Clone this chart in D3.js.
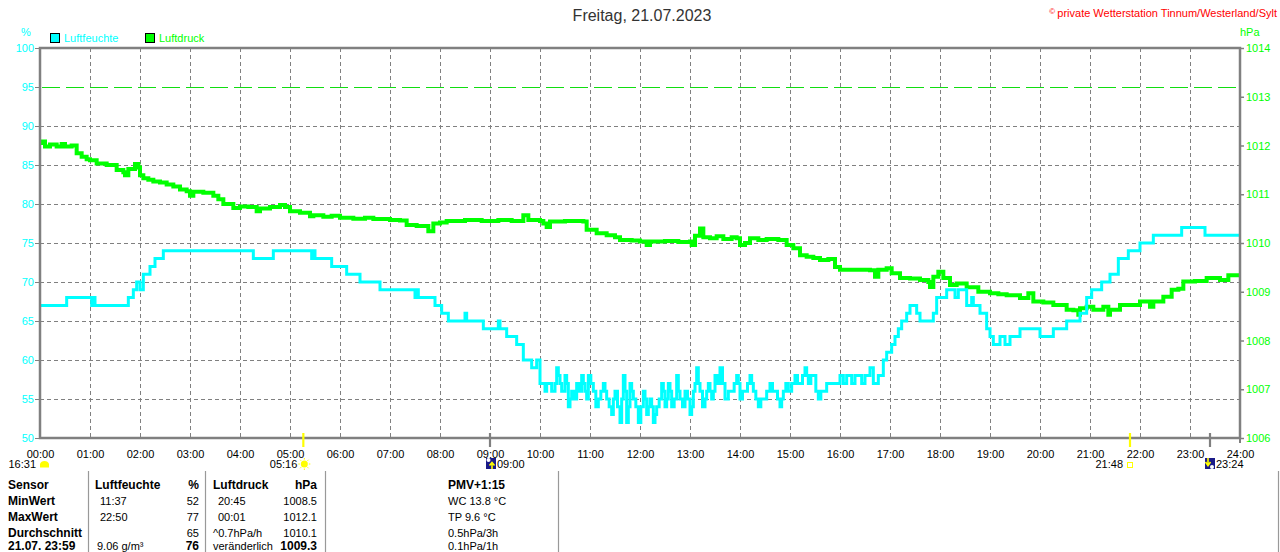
<!DOCTYPE html>
<html>
<head>
<meta charset="utf-8">
<script src="https://cdn.jsdelivr.net/npm/d3@7"></script>
<style>
  html, body { margin: 0; padding: 0; background: #fff; }
  svg { display: block; font-family: "Liberation Sans", Arial, sans-serif; }
</style>
</head>
<body>
<svg id="chart" width="1280" height="552"></svg>
<script>
// ---------- DATA ----------
const title = "Freitag, 21.07.2023";
const copyright = "private Wetterstation Tinnum/Westerland/Sylt";
const seriesNames = ["Luftfeuchte", "Luftdruck"];

// Humidity (%) — [minute of day, value], step-after
const humidity = [
  [0,67],[32,68],[62,67],[64,68],[66,67],[106,68],[112,69],[116,70],[120,69],[124,71],[128,71],[132,72],[138,73],[148,74],
  [256,73],[280,74],[326,73],[328,74],[330,73],[350,72],[368,71],[384,70],[408,69],[450,68],[452,69],[454,68],
  [474,67],[482,66],[490,65],[510,66],[512,65],[532,64],[550,65],[552,64],[560,63],[572,62],[580,60],[590,59],[596,60],
  [600,57],[606,56],[608,57],[614,56],[618,57],[620,59],[622,58],[624,57],[626,56],[630,58],[632,57],[634,54],[636,55],
  [638,56],[641,55],[644,57],[647,56],[650,58],[652,57],[654,56],[656,55],[658,58],[661,57],
  [664,56],[667,54],[670,55],[673,56],[676,57],[678,56],[680,55],[683,54],[686,53],[688,55],[690,56],[693,54],[696,52],
  [698,55],[700,58],[702,56],[704,52],[706,54],[708,57],[710,56],[712,55],[715,54],[718,52],[721,54],[724,56],[726,55],
  [728,53],[730,54],[732,55],[734,54],[736,52],[738,53],[740,54],[743,55],[746,57],[748,56],[750,54],[752,55],[754,57],
  [756,56],[758,54],[761,55],[764,58],[766,56],[768,55],[771,54],[774,56],[777,55],[780,53],[782,54],[784,56],[786,57],
  [788,59],[790,57],[792,56],[795,54],[798,55],[800,56],[802,57],[804,56],[806,55],[808,56],[810,58],[813,57],[816,59],
  [819,57],[822,55],[826,56],[830,56],[833,57],[836,58],[838,57],[840,55],[843,56],[846,56],[849,57],[852,58],
  [854,57],[856,56],[859,55],[862,54],[865,55],[868,55],[872,56],[876,57],[879,56],[882,56],[885,55],[888,54],[890,55],
  [892,56],[895,57],[898,56],[902,57],[906,58],[909,57],[912,57],[915,58],[918,59],[920,58],[922,57],[925,58],[928,58],
  [931,56],[934,55],[937,56],[940,56],[944,57],[948,57],[960,58],[964,57],[968,58],[974,57],[978,58],[986,57],[990,58],
  [996,59],[1000,57],[1006,58],
  [1012,60],[1016,61],[1022,62],[1026,63],[1030,64],[1034,65],[1040,66],[1044,67],[1052,66],[1056,65],[1072,66],[1076,68],
  [1088,69],[1098,68],[1102,69],[1112,67],[1118,68],[1120,67],[1128,66],[1136,64],[1140,63],[1144,62],[1152,63],[1158,62],
  [1164,63],[1176,64],[1200,63],[1216,64],[1232,65],[1248,66],[1256,68],[1262,69],[1274,70],[1284,71],[1294,73],[1306,74],
  [1320,75],[1336,76],[1370,77],[1398,76],[1440,76]
];

// Air pressure (hPa) — [minute of day, value]
const pressure = [
  [0,1012.05],[3,1012.08],[6,1011.98],[12,1012.02],[20,1011.98],[26,1012.03],[30,1011.98],[38,1012.0],[44,1011.84],
  [50,1011.77],[56,1011.72],[60,1011.70],[68,1011.63],[80,1011.6],[92,1011.50],[100,1011.45],[102,1011.39],[106,1011.52],
  [114,1011.62],[118,1011.55],[120,1011.39],[124,1011.33],[130,1011.3],[136,1011.26],[144,1011.24],[152,1011.2],[160,1011.16],
  [168,1011.1],[176,1011.06],[180,1010.97],[184,1011.05],[196,1011.03],[208,1010.97],[214,1010.9],[220,1010.8],[232,1010.72],
  [240,1010.75],[250,1010.74],[260,1010.65],[264,1010.71],[276,1010.74],[288,1010.78],[294,1010.74],[300,1010.65],
  [312,1010.62],[324,1010.55],[328,1010.57],[340,1010.54],[350,1010.56],[360,1010.52],[376,1010.5],[390,1010.52],[400,1010.49],
  [420,1010.47],[432,1010.46],[440,1010.37],[452,1010.35],[466,1010.24],[472,1010.4],[480,1010.42],[488,1010.45],
  [510,1010.47],[530,1010.45],[550,1010.47],[566,1010.45],[580,1010.57],[586,1010.47],[600,1010.45],[604,1010.4],[608,1010.33],
  [612,1010.44],[630,1010.45],[652,1010.44],[656,1010.27],[668,1010.2],[680,1010.16],[690,1010.12],[696,1010.06],[710,1010.05],
  [720,1010.03],[728,1009.96],[732,1010.03],[750,1010.04],[766,1010.02],[780,1010.03],[782,1009.96],[786,1010.15],[792,1010.3],
  [796,1010.12],[804,1010.1],[812,1010.14],[820,1010.08],[830,1010.12],[836,1010.1],[840,1009.96],[846,1010.0],[852,1010.1],
  [862,1010.06],[872,1010.08],[886,1010.06],[896,1009.96],[904,1009.89],[912,1009.75],[920,1009.72],[928,1009.69],[936,1009.65],
  [946,1009.67],[954,1009.51],[960,1009.45],[980,1009.45],[996,1009.44],[1002,1009.31],[1006,1009.45],[1016,1009.48],
  [1022,1009.38],[1032,1009.28],[1044,1009.27],[1056,1009.24],[1066,1009.2],[1068,1009.1],[1072,1009.31],[1078,1009.41],
  [1084,1009.28],[1092,1009.14],[1100,1009.17],[1112,1009.09],[1126,1009.0],[1140,1008.97],[1150,1008.95],[1160,1008.93],
  [1176,1008.87],[1186,1008.97],[1192,1008.8],[1204,1008.78],[1216,1008.73],[1232,1008.63],[1240,1008.62],[1246,1008.53],
  [1248,1008.66],[1256,1008.69],[1264,1008.63],[1276,1008.69],[1282,1008.53],[1284,1008.63],[1296,1008.73],[1308,1008.73],
  [1320,1008.8],[1332,1008.69],[1336,1008.8],[1348,1008.9],[1358,1009.04],[1366,1009.06],[1372,1009.21],[1386,1009.22],
  [1400,1009.28],[1416,1009.24],[1426,1009.34],[1440,1009.34]
];

const humTicks = [50,55,60,65,70,75,80,85,90,95,100];
const presTicks = [1006,1007,1008,1009,1010,1011,1012,1013,1014];
const hourTicks = d3.range(0, 25).map(h => h * 60);

// Astronomical markers: [label, minute of day, kind]
const astroEvents = [
  ["16:31", 0, "sunset"],
  ["05:16", 316, "sunrise"],
  ["09:00", 540, "moonrise"],
  ["21:48", 1308, "sundown"],
  ["23:24", 1404, "moonset"]
];

// Statistics table
const tableRows = [
  ["Sensor", "Luftfeuchte", "%", "Luftdruck", "hPa", "PMV+1:15"],
  ["MinWert", "11:37", "52", "20:45", "1008.5", "WC 13.8 °C"],
  ["MaxWert", "22:50", "77", "00:01", "1012.1", "TP 9.6 °C"],
  ["Durchschnitt", "", "65", "^0.7hPa/h", "1010.1", "0.5hPa/3h"],
  ["21.07. 23:59", "9.06 g/m³", "76", "veränderlich", "1009.3", "0.1hPa/1h"]
];

// ---------- LAYOUT ----------
const W = 1280, H = 552;
const L = 40, R = 1240, T = 48, B = 438;
const cHum = "#00ffff", cPres = "#00ff00", cGrid = "#808080";

const svg = d3.select("#chart");
const x = d3.scaleLinear().domain([0, 1440]).range([L, R]);
const yH = d3.scaleLinear().domain([50, 100]).range([B, T]);
const yP = d3.scaleLinear().domain([1006, 1014]).range([B, T]);

// Title / copyright
svg.append("text").attr("x", 642).attr("y", 21).attr("text-anchor", "middle")
  .attr("font-size", 16).attr("fill", "#333").text(title);
const cp = svg.append("text").attr("x", 1277).attr("y", 17).attr("text-anchor", "end")
  .attr("font-size", 11).attr("fill", "#ff0000");
cp.append("tspan").attr("font-size", 8).attr("dy", -3).text("© ");
cp.append("tspan").attr("dy", 3).text(copyright);

// Units
svg.append("text").attr("x", 26).attr("y", 36).attr("text-anchor", "middle")
  .attr("font-size", 11).attr("fill", cHum).text("%");
svg.append("text").attr("x", 1240).attr("y", 36)
  .attr("font-size", 11).attr("fill", cPres).text("hPa");

// Legend
const leg = [[50, 64, cHum], [145, 159, cPres]];
seriesNames.forEach((n, i) => {
  svg.append("rect").attr("x", leg[i][0] + 0.5).attr("y", 33.5).attr("width", 9).attr("height", 9)
    .attr("fill", leg[i][2]).attr("stroke", "#000").attr("stroke-width", 1);
  svg.append("text").attr("x", leg[i][1]).attr("y", 42).attr("font-size", 11)
    .attr("fill", leg[i][2]).text(n);
});

// Grid
const grid = svg.append("g");
grid.selectAll("line.h").data(humTicks.filter(v => v > 50 && v < 100 && v !== 95)).join("line")
  .attr("x1", L).attr("x2", R).attr("y1", d => Math.round(yH(d)) + 0.5).attr("y2", d => Math.round(yH(d)) + 0.5)
  .attr("stroke", cGrid).attr("stroke-width", 1).attr("stroke-dasharray", "4,3");
grid.selectAll("line.v").data(hourTicks.filter(v => v > 0 && v < 1440)).join("line")
  .attr("x1", d => x(d) + 0.5).attr("x2", d => x(d) + 0.5).attr("y1", T).attr("y2", B)
  .attr("stroke", cGrid).attr("stroke-width", 1).attr("stroke-dasharray", "4,3");
grid.append("line").attr("x1", L + 2).attr("x2", R).attr("y1", Math.round(yH(95)) + 0.5).attr("y2", Math.round(yH(95)) + 0.5)
  .attr("stroke", "#11dd11").attr("stroke-width", 1).attr("stroke-dasharray", "18,6").attr("shape-rendering", "crispEdges");

// Lines
svg.append("path").datum(pressure)
  .attr("d", d3.line().x(d => x(d[0])).y(d => yP(d[1])).curve(d3.curveStepAfter))
  .attr("fill", "none").attr("stroke", cPres).attr("stroke-width", 4).attr("stroke-linejoin", "miter");
svg.append("path").datum(humidity)
  .attr("d", d3.line().x(d => x(d[0])).y(d => yH(d[1])).curve(d3.curveStepAfter))
  .attr("fill", "none").attr("stroke", cHum).attr("stroke-width", 3);

// Axes
const axL = svg.append("g").attr("transform", `translate(${L},0)`)
  .call(d3.axisLeft(yH).tickValues(humTicks).tickSize(5).tickPadding(1).tickFormat(d3.format("d")));
axL.selectAll("text").attr("fill", cHum).attr("font-size", 11).attr("font-family", "Liberation Sans, Arial");
axL.selectAll("line").attr("stroke", cGrid);
axL.select(".domain").remove();

const axR = svg.append("g").attr("transform", `translate(${R},0)`)
  .call(d3.axisRight(yP).tickValues(presTicks).tickSize(4).tickPadding(2).tickFormat(d3.format("d")));
axR.selectAll("text").attr("fill", cPres).attr("font-size", 11).attr("font-family", "Liberation Sans, Arial");
axR.selectAll("line").attr("stroke", cGrid).attr("stroke-width", 1.5);
axR.select(".domain").remove();

const axB = svg.append("g").attr("transform", `translate(0,${B})`)
  .call(d3.axisBottom(x).tickValues(hourTicks).tickSize(0).tickPadding(12)
    .tickFormat(d => String(d / 60).padStart(2, "0") + ":00"));
axB.selectAll("text").attr("fill", "#000").attr("font-size", 11).attr("font-family", "Liberation Sans, Arial");
axB.select(".domain").remove();

// Frame
svg.append("rect").attr("x", L).attr("y", T).attr("width", R - L).attr("height", B - T)
  .attr("fill", "none").attr("stroke", cGrid).attr("stroke-width", 2.5);
svg.append("line").attr("x1", R).attr("x2", R).attr("y1", B).attr("y2", B + 5)
  .attr("stroke", cGrid).attr("stroke-width", 2);

// Astro markers
const astro = svg.append("g");
astroEvents.forEach(([lab, t, kind]) => {
  const px = x(t);
  if (kind === "sunrise" || kind === "sundown") {
    astro.append("line").attr("x1", px).attr("x2", px).attr("y1", 433).attr("y2", 447)
      .attr("stroke", "#ffff00").attr("stroke-width", 2.2);
  }
  if (kind === "moonrise" || kind === "moonset") {
    astro.append("line").attr("x1", px).attr("x2", px).attr("y1", 433).attr("y2", 447)
      .attr("stroke", cGrid).attr("stroke-width", 2.2);
  }
  const ty = 468;
  if (kind === "sunset") {
    astro.append("text").attr("x", 36).attr("y", ty).attr("text-anchor", "end").attr("font-size", 11).text(lab);
    astro.append("path").attr("d", "M40,467.5 L40,464 Q41,461 44.5,461 Q48,461 49,464 L49,467.5 Z").attr("fill", "#ffff00");
  } else if (kind === "sunrise") {
    astro.append("text").attr("x", px - 6).attr("y", ty).attr("text-anchor", "end").attr("font-size", 11).text(lab);
    const cx = px + 1, cy = 464;
    astro.append("circle").attr("cx", cx).attr("cy", cy).attr("r", 3.5).attr("fill", "#ffff00");
    d3.range(8).forEach(k => {
      const a = k * Math.PI / 4;
      astro.append("line").attr("x1", cx + Math.cos(a) * 4.5).attr("y1", cy + Math.sin(a) * 4.5)
        .attr("x2", cx + Math.cos(a) * 6).attr("y2", cy + Math.sin(a) * 6)
        .attr("stroke", "#ffff00").attr("stroke-width", 1);
    });
  } else if (kind === "moonrise") {
    astro.append("rect").attr("x", px - 4).attr("y", 458).attr("width", 10).attr("height", 11).attr("fill", "#1a1a88");
    astro.append("circle").attr("cx", px - 1.5).attr("cy", 460).attr("r", 2).attr("fill", "#fff");
    astro.append("path").attr("d", `M${px + 2},469 L${px + 2},464 M${px - 0.5},465.5 L${px + 2},462.5 L${px + 4.5},465.5`)
      .attr("stroke", "#ffff00").attr("stroke-width", 1.6).attr("fill", "none");
    astro.append("text").attr("x", px + 7).attr("y", ty).attr("font-size", 11).text(lab);
  } else if (kind === "sundown") {
    astro.append("rect").attr("x", px - 2.5).attr("y", 462.5).attr("width", 5).attr("height", 5)
      .attr("fill", "#fff").attr("stroke", "#ffff00").attr("stroke-width", 1);
    astro.append("text").attr("x", px - 7).attr("y", ty).attr("text-anchor", "end").attr("font-size", 11).text(lab);
  } else if (kind === "moonset") {
    astro.append("rect").attr("x", px - 5).attr("y", 458).attr("width", 10).attr("height", 11).attr("fill", "#1a1a88");
    astro.append("circle").attr("cx", px + 2).attr("cy", 467).attr("r", 2).attr("fill", "#fff");
    astro.append("path").attr("d", `M${px - 2},458 L${px - 2},464 M${px - 4.5},462 L${px - 2},465.5 L${px + 0.5},462`)
      .attr("stroke", "#ffff00").attr("stroke-width", 1.6).attr("fill", "none");
    astro.append("text").attr("x", px + 6).attr("y", ty).attr("font-size", 11).text(lab);
  }
});

// Table separators
[88, 205, 325, 558, 1278].forEach(sx => {
  svg.append("line").attr("x1", sx + 0.5).attr("x2", sx + 0.5).attr("y1", 471).attr("y2", H)
    .attr("stroke", "#999").attr("stroke-width", 1.2);
});

// Table text
const colX = [8, 100, 199, 218, 317, 448];
const colAnchor = ["start", "start", "end", "start", "end", "start"];
const rowY = [489, 505, 521, 537, 550];
tableRows.forEach((row, ri) => {
  row.forEach((cell, ci) => {
    if (!cell) return;
    let cx = colX[ci];
    if (ci === 1) cx = ri === 0 ? 95 : (ri === 4 ? 97 : 100);
    if (ci === 3) cx = (ri === 1 || ri === 2) ? 218 : 213;
    const bold = ri === 0 || ci === 0 || (ri === 4 && (ci === 2 || ci === 4));
    svg.append("text").attr("x", cx).attr("y", rowY[ri]).attr("text-anchor", colAnchor[ci])
      .attr("font-size", bold ? 12 : 11).attr("font-weight", bold ? "bold" : "normal")
      .attr("fill", "#000").text(cell);
  });
});
</script>
</body>
</html>
